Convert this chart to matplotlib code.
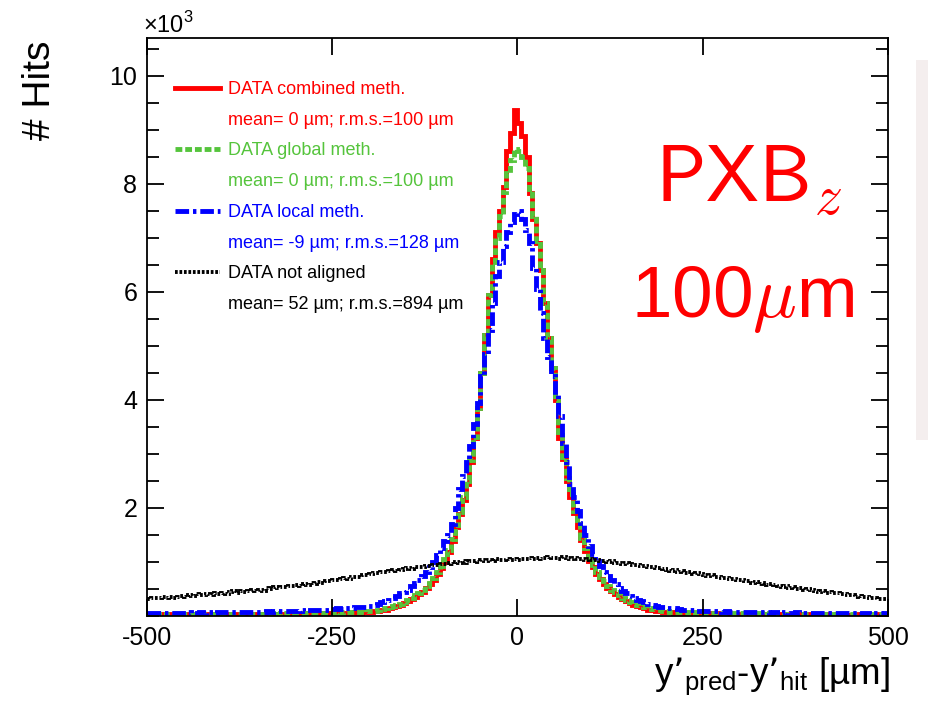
import numpy as np
import matplotlib
matplotlib.use('Agg')
import matplotlib.pyplot as plt
from matplotlib.lines import Line2D
from matplotlib.ticker import MultipleLocator
from matplotlib.patches import Rectangle

plt.rcParams['font.family'] = ['Liberation Sans', 'DejaVu Sans']

# ---------------- data (counts in units of 10^3, 5 um bins from -500 to 500) -------------
x_min, x_max, n_bins = -500, 500, 200

combined = [
    0.02,0.02,0.02,0.03,0.02,0.02,0.03,0.02,0.02,0.03,
    0.02,0.03,0.02,0.03,0.03,0.02,0.03,0.03,0.02,0.03,
    0.03,0.03,0.02,0.03,0.03,0.03,0.04,0.03,0.03,0.03,
    0.04,0.03,0.03,0.04,0.03,0.04,0.04,0.03,0.04,0.04,
    0.04,0.04,0.05,0.04,0.04,0.05,0.05,0.04,0.05,0.05,
    0.05,0.06,0.05,0.06,0.06,0.06,0.07,0.06,0.07,0.07,
    0.08,0.09,0.10,0.11,0.12,0.14,0.16,0.18,0.21,0.24,
    0.27,0.31,0.35,0.40,0.45,0.52,0.59,0.67,0.77,0.88,
    1.00,1.18,1.38,1.65,1.88,2.15,2.45,2.85,3.30,3.85,
    4.50,5.20,5.95,6.60,7.10,7.50,7.95,8.60,8.94,9.36,
    9.12,8.88,8.50,7.83,7.35,6.90,6.40,5.80,5.15,4.60,
    4.00,3.30,2.90,2.50,2.20,1.90,1.65,1.40,1.20,1.02,
    0.90,0.78,0.68,0.60,0.52,0.46,0.41,0.36,0.31,0.27,
    0.24,0.21,0.18,0.16,0.14,0.12,0.11,0.10,0.09,0.08,
    0.07,0.07,0.06,0.07,0.06,0.06,0.05,0.06,0.05,0.05,
    0.05,0.05,0.04,0.05,0.04,0.04,0.05,0.04,0.04,0.04,
    0.04,0.03,0.04,0.04,0.03,0.04,0.03,0.03,0.04,0.03,
    0.03,0.03,0.03,0.02,0.03,0.03,0.03,0.02,0.03,0.03,
    0.02,0.03,0.02,0.03,0.02,0.02,0.03,0.02,0.02,0.02,
    0.02,0.02,0.03,0.02,0.02,0.02,0.02,0.03,0.02,0.02,
]

global_meth = [
    0.03,0.02,0.03,0.03,0.02,0.03,0.03,0.03,0.02,0.03,
    0.03,0.03,0.03,0.03,0.03,0.03,0.03,0.04,0.03,0.03,
    0.03,0.04,0.03,0.03,0.04,0.04,0.03,0.04,0.04,0.04,
    0.04,0.04,0.04,0.05,0.04,0.04,0.05,0.05,0.04,0.05,
    0.05,0.05,0.05,0.06,0.05,0.06,0.06,0.05,0.06,0.06,
    0.06,0.07,0.06,0.07,0.07,0.07,0.08,0.08,0.08,0.09,
    0.09,0.10,0.11,0.13,0.14,0.16,0.18,0.20,0.23,0.26,
    0.29,0.33,0.38,0.43,0.49,0.55,0.62,0.71,0.81,0.92,
    1.05,1.22,1.42,1.68,1.92,2.20,2.50,2.88,3.32,3.85,
    4.50,5.20,5.95,6.55,7.00,7.40,7.85,8.20,8.45,8.65,
    8.60,8.50,8.30,7.90,7.40,6.95,6.40,5.80,5.15,4.60,
    4.00,3.35,2.95,2.55,2.25,1.95,1.70,1.45,1.25,1.07,
    0.94,0.82,0.72,0.64,0.56,0.49,0.44,0.39,0.34,0.30,
    0.26,0.23,0.20,0.18,0.16,0.14,0.13,0.12,0.11,0.10,
    0.09,0.08,0.08,0.08,0.07,0.07,0.06,0.07,0.06,0.06,
    0.06,0.06,0.05,0.06,0.05,0.05,0.06,0.05,0.05,0.05,
    0.05,0.04,0.05,0.05,0.04,0.05,0.04,0.04,0.05,0.04,
    0.04,0.04,0.04,0.03,0.04,0.04,0.04,0.03,0.04,0.04,
    0.03,0.04,0.03,0.04,0.03,0.03,0.04,0.03,0.03,0.03,
    0.03,0.03,0.04,0.03,0.03,0.03,0.03,0.04,0.03,0.03,
]

local_meth = [
    0.06,0.05,0.06,0.06,0.05,0.06,0.06,0.05,0.06,0.06,
    0.06,0.07,0.06,0.06,0.07,0.06,0.07,0.07,0.06,0.07,
    0.07,0.07,0.08,0.07,0.07,0.08,0.07,0.08,0.08,0.07,
    0.08,0.08,0.09,0.08,0.09,0.09,0.10,0.09,0.10,0.10,
    0.10,0.11,0.10,0.11,0.11,0.12,0.11,0.12,0.12,0.13,
    0.13,0.14,0.13,0.14,0.15,0.15,0.16,0.16,0.17,0.18,
    0.19,0.20,0.22,0.25,0.27,0.30,0.33,0.37,0.42,0.45,
    0.49,0.55,0.61,0.67,0.74,0.82,0.90,1.00,1.12,1.25,
    1.38,1.50,1.70,2.00,2.35,2.60,2.85,3.15,3.55,3.95,
    4.45,4.85,5.30,5.80,6.30,6.55,6.85,7.10,7.30,7.45,
    7.50,7.35,7.15,6.90,6.45,6.05,5.60,5.15,4.80,4.45,
    4.10,3.70,3.20,2.85,2.45,2.20,1.95,1.72,1.50,1.30,
    1.15,1.02,0.92,0.82,0.74,0.66,0.59,0.52,0.47,0.42,
    0.37,0.33,0.30,0.27,0.25,0.22,0.20,0.18,0.17,0.16,
    0.15,0.14,0.14,0.13,0.12,0.12,0.11,0.11,0.10,0.10,
    0.10,0.09,0.10,0.09,0.09,0.08,0.09,0.08,0.08,0.08,
    0.08,0.07,0.08,0.07,0.07,0.08,0.07,0.07,0.06,0.07,
    0.07,0.06,0.07,0.06,0.06,0.07,0.06,0.06,0.06,0.05,
    0.06,0.05,0.06,0.05,0.06,0.05,0.05,0.06,0.05,0.05,
    0.05,0.05,0.04,0.05,0.05,0.04,0.05,0.05,0.04,0.05,
]

not_aligned = [
    0.32,0.34,0.33,0.33,0.35,0.34,0.36,0.34,0.36,0.37,
    0.36,0.38,0.37,0.40,0.38,0.39,0.41,0.39,0.42,0.41,
    0.43,0.41,0.44,0.46,0.43,0.47,0.45,0.46,0.48,0.47,
    0.49,0.47,0.51,0.50,0.53,0.51,0.54,0.53,0.56,0.55,
    0.57,0.56,0.59,0.58,0.61,0.60,0.63,0.62,0.65,0.64,
    0.67,0.66,0.69,0.70,0.69,0.72,0.73,0.72,0.76,0.75,
    0.78,0.80,0.79,0.82,0.81,0.83,0.85,0.83,0.86,0.87,
    0.88,0.87,0.90,0.91,0.90,0.93,0.92,0.95,0.94,0.96,
    0.97,0.99,0.96,1.00,0.99,1.01,0.98,1.02,1.01,1.00,
    1.03,1.02,1.04,1.01,1.05,1.03,1.04,1.06,1.03,1.05,
    1.04,1.06,1.05,1.07,1.05,1.08,1.06,1.07,1.09,1.07,
    1.08,1.06,1.09,1.07,1.06,1.08,1.05,1.06,1.04,1.05,
    1.03,1.04,1.01,1.02,1.00,1.01,0.98,0.99,0.97,0.98,
    0.96,0.94,0.95,0.92,0.93,0.90,0.91,0.88,0.89,0.87,
    0.86,0.84,0.85,0.82,0.83,0.80,0.81,0.78,0.79,0.77,
    0.76,0.74,0.75,0.72,0.73,0.70,0.71,0.68,0.69,0.67,
    0.66,0.64,0.65,0.62,0.63,0.60,0.61,0.58,0.59,0.57,
    0.56,0.54,0.55,0.52,0.53,0.50,0.51,0.49,0.50,0.48,
    0.47,0.45,0.46,0.43,0.44,0.42,0.43,0.40,0.41,0.39,
    0.38,0.36,0.37,0.35,0.35,0.33,0.34,0.32,0.32,0.31,
]

legend_titles = ["DATA combined meth.", "DATA global meth.",
                 "DATA local meth.", "DATA not aligned"]
legend_stats = ["mean= 0 \u00b5m; r.m.s.=100 \u00b5m",
                "mean= 0 \u00b5m; r.m.s.=100 \u00b5m",
                "mean= -9 \u00b5m; r.m.s.=128 \u00b5m",
                "mean= 52 \u00b5m; r.m.s.=894 \u00b5m"]
x_ticks = [-500, -250, 0, 250, 500]
y_ticks = [2, 4, 6, 8, 10]

# ---------------- styling -------------
RED = '#ff0000'
GREEN = '#55c43c'
BLUE = '#0000ff'
BLACK = '#000000'

fig = plt.figure(figsize=(9.29, 7.01), dpi=100)
ax = fig.add_axes([147/929, 1-616/701, (888-147)/929, (616-38)/701])

edges = np.linspace(x_min, x_max, n_bins + 1)

series = [
    (combined, RED, dict(linestyle='-')),
    (global_meth, GREEN, dict(linestyle=(0, (1.4, 0.6)))),
    (local_meth, BLUE, dict(linestyle=(0, (2.8, 0.8, 0.7, 0.8)))),
    (not_aligned, BLACK, dict(linestyle=(0, (0.7, 0.45)))),
]
lws = [3.5, 3.5, 3.5, 2.8]
handles = []
for (vals, col, st), lw in zip(series, lws):
    ax.stairs(vals, edges, baseline=None, color=col, linewidth=lw, **st)
    handles.append(Line2D([], [], color=col, linewidth=lw, **st))

ax.set_xlim(x_min, x_max)
ax.set_ylim(0, 10.7)
ax.set_xticks(x_ticks)
ax.set_xticklabels([str(t) for t in x_ticks])
ax.set_yticks(y_ticks)
ax.set_yticklabels([str(t) for t in y_ticks])
ax.yaxis.set_minor_locator(MultipleLocator(0.5))
ax.tick_params(axis='both', which='both', direction='in', top=True, right=True,
               width=1.3, labelsize=18)
ax.tick_params(axis='y', which='major', length=12, pad=7)
ax.tick_params(axis='y', which='minor', length=8.5)
ax.tick_params(axis='x', which='major', length=12, pad=7)
for sp in ax.spines.values():
    sp.set_linewidth(1.3)

# legend: line entries alternate with stats lines
blank = Line2D([], [], color='none')
leg_handles, leg_labels, leg_colors = [], [], []
for h, t, s, c in zip(handles, legend_titles, legend_stats, [RED, GREEN, BLUE, BLACK]):
    leg_handles += [h, blank]
    leg_labels += [t, s]
    leg_colors += [c, c]
leg = ax.legend(leg_handles, leg_labels, loc='upper left',
                bbox_to_anchor=(175/929, 1-81/701), bbox_transform=fig.transFigure,
                frameon=False, fontsize=13, handlelength=2.5, handletextpad=0.45,
                labelspacing=0.76, borderpad=0, borderaxespad=0, labelcolor=leg_colors)

# axis titles
fig.text(40/929, 1-90/701, '# Hits', rotation=90, ha='center', va='center', fontsize=28)
fig.text(890/929, 1-684/701,
         'y\u2019$_\\mathregular{pred}$-y\u2019$_\\mathregular{hit}$ [\u00b5m]',
         ha='right', va='baseline', fontsize=26.5)
fig.text(143/929, 1-33/701, '\u00d710$^\\mathregular{3}$', ha='left', va='baseline',
         fontsize=17)

# big annotation
fig.text(749/929, 1-202/701, r'$\mathsf{PXB}_{z}$', ha='center', va='baseline',
         fontsize=57, color=RED, math_fontfamily='cm')
fig.text(743/929, 1-317/701, '100$\\mu$m', ha='center', va='baseline',
         fontsize=52.5, color=RED, math_fontfamily='cm', family='Liberation Sans')

# faint slide background at right edge
fig.patches.append(Rectangle((916/929, 1-440/701), 13/929, 380/701,
                             transform=fig.transFigure, facecolor='#f4eeee',
                             edgecolor='none', zorder=-1))

fig.savefig('out.png', dpi=100)
